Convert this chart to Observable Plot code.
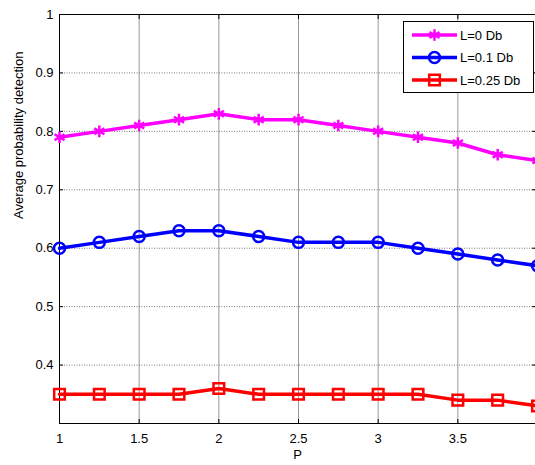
<!DOCTYPE html>
<html><head><meta charset="utf-8">
<script src="https://cdn.jsdelivr.net/npm/d3@7"></script>
<script src="https://cdn.jsdelivr.net/npm/@observablehq/plot@0.6"></script>
<style>
html,body{margin:0;padding:0;background:#fff;}
#wrap{position:relative;width:535px;height:465px;overflow:hidden;font-family:"Liberation Sans",Arial,sans-serif;}
#legend{position:absolute;left:403px;top:21px;width:129px;height:70px;border:1px solid #000;background:#fff;}
#legend svg{position:absolute;left:0;top:0;}
</style>
</head><body>
<div id="wrap"><div id="chart"></div><div id="legend"></div></div>
<script>
const P = [1, 1.25, 1.5, 1.75, 2, 2.25, 2.5, 2.75, 3, 3.25, 3.5, 3.75, 4];
const L0 = [0.79, 0.80, 0.81, 0.82, 0.83, 0.82, 0.82, 0.81, 0.80, 0.79, 0.78, 0.76, 0.75];
const L01 = [0.60, 0.61, 0.62, 0.63, 0.63, 0.62, 0.61, 0.61, 0.61, 0.60, 0.59, 0.58, 0.57];
const L025 = [0.35, 0.35, 0.35, 0.35, 0.36, 0.35, 0.35, 0.35, 0.35, 0.35, 0.34, 0.34, 0.33];
const seriesNames = ["L=0 Db", "L=0.1 Db", "L=0.25 Db"];
const colors = ["#ff00ff", "#0000ff", "#ff0000"];
const xTicks = [1, 1.5, 2, 2.5, 3, 3.5, 4];
const yTicks = [0.4, 0.5, 0.6, 0.7, 0.8, 0.9, 1];

const s0 = P.map((p, i) => ({p, v: L0[i]}));
const s1 = P.map((p, i) => ({p, v: L01[i]}));
const s2 = P.map((p, i) => ({p, v: L025[i]}));

const chart = Plot.plot({
  width: 535, height: 465,
  marginLeft: 59, marginRight: 0, marginTop: 14, marginBottom: 42,
  style: {fontFamily: "Liberation Sans, Arial, sans-serif", fontSize: "13px", background: "#fff", overflow: "hidden"},
  x: {domain: [1, 4], range: [59, 537]},
  y: {domain: [0.3, 1]},
  marks: [
    Plot.gridX(xTicks, {stroke: "#999", strokeOpacity: 1, strokeWidth: 1}),
    Plot.gridY(yTicks, {stroke: "#777", strokeOpacity: 1, strokeDasharray: "1,1.5"}),
    Plot.ruleY([1, 0.3], {stroke: "#000", strokeWidth: 1}),
    Plot.ruleX([1, 4], {stroke: "#000", strokeWidth: 1}),
    Plot.axisX({ticks: xTicks, tickSize: -4, tickPadding: 14, tickFormat: d => d === 4 ? "" : String(d), label: null, fontSize: 13, fill: "#000"}),
    Plot.axisX({anchor: "top", ticks: xTicks, tickSize: -4, tickFormat: () => "", label: null}),
    Plot.axisY({ticks: yTicks, tickSize: -4, tickPadding: 10, tickFormat: d => String(d), label: null, fontSize: 13, fill: "#000"}),
    Plot.axisY({anchor: "right", ticks: yTicks, tickSize: -4, tickFormat: () => "", label: null}),
    Plot.line(s0, {x: "p", y: "v", stroke: colors[0], strokeWidth: 3.5}),
    Plot.dot(s0, {x: "p", y: "v", stroke: colors[0], symbol: "asterisk", r: 5.5, strokeWidth: 2.5}),
    Plot.line(s1, {x: "p", y: "v", stroke: colors[1], strokeWidth: 3.5}),
    Plot.dot(s1, {x: "p", y: "v", stroke: colors[1], symbol: "circle", r: 5.5, strokeWidth: 2.5, fill: "none"}),
    Plot.line(s2, {x: "p", y: "v", stroke: colors[2], strokeWidth: 3.5}),
    Plot.dot(s2, {x: "p", y: "v", stroke: colors[2], symbol: "square", r: 6, strokeWidth: 2.5, fill: "none"}),
    Plot.text(["P"], {frameAnchor: "bottom", dy: 35, fontSize: 13, fill: "#000"}),
    Plot.text(["Average probability detection"], {frameAnchor: "left", dx: -41, rotate: -90, fontSize: 13, fill: "#000"})
  ]
});
document.getElementById("chart").appendChild(chart);

// legend
const leg = d3.select("#legend").append("svg").attr("width", 129).attr("height", 70);
const symbols = [d3.symbolAsterisk, d3.symbolCircle, d3.symbolSquare];
const rs = [5.5, 5.5, 6];
seriesNames.forEach((name, i) => {
  const cy = 13 + i * 22.5;
  leg.append("line").attr("x1", 8).attr("x2", 53).attr("y1", cy).attr("y2", cy)
    .attr("stroke", colors[i]).attr("stroke-width", 3.5);
  leg.append("path").attr("transform", `translate(30.5,${cy})`)
    .attr("d", d3.symbol(symbols[i], Math.PI * rs[i] * rs[i])())
    .attr("fill", "none").attr("stroke", colors[i]).attr("stroke-width", 2.5);
  leg.append("text").attr("x", 56).attr("y", cy).attr("dy", "0.35em")
    .attr("font-size", 13).attr("fill", "#000").text(name);
});
</script>
</body></html>
